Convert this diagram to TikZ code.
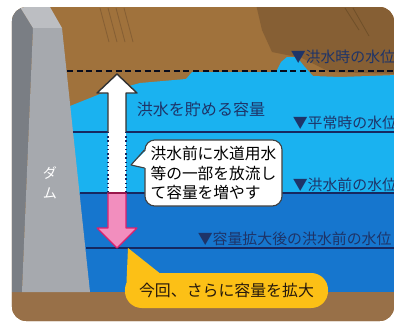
\documentclass[tikz,border=0pt]{standalone}
\usepackage{fontspec}
\newfontfamily\jpfont{Noto Sans CJK JP}
\usetikzlibrary{calc}
\usetikzlibrary{positioning}

\definecolor{earth}{RGB}{160,114,60}
\definecolor{earthdark}{RGB}{134,95,52}
\definecolor{ground}{RGB}{152,112,72}
\definecolor{damside}{RGB}{122,126,132}
\definecolor{damface}{RGB}{166,169,174}
\definecolor{damtop}{RGB}{188,190,194}
\definecolor{waterlight}{RGB}{26,178,240}
\definecolor{waterdeep}{RGB}{22,118,206}
\definecolor{navy}{RGB}{22,40,96}
\definecolor{labelnavy}{RGB}{30,52,104}
\definecolor{pinkfill}{RGB}{242,142,190}
\definecolor{pinkedge}{RGB}{222,32,108}
\definecolor{notefill}{RGB}{252,192,22}

\tikzset{
  levelline/.style={draw=navy, line width=1pt},
  levellabel/.style={anchor=west, inner sep=0pt, text=labelnavy,
    font=\jpfont\fontsize{10.6}{12}\selectfont},
  callbox/.style={draw=black!75, fill=white, line width=0.8pt, rounded corners=7pt,
    align=left, inner sep=0pt, minimum width=3.425cm, minimum height=1.65cm,
    font=\jpfont\fontsize{11.2}{13.6}\selectfont},
  notebox/.style={fill=notefill, rounded corners=12pt, inner sep=0pt,
    minimum width=5.075cm, minimum height=0.875cm, text=black!80!brown,
    font=\jpfont\fontsize{11.3}{13}\selectfont},
}

\begin{document}
\begin{tikzpicture}[x=0.025cm,y=-0.025cm]
    \useasboundingbox (0,0) rectangle (397,325);

    \coordinate (floodlvl) at (67,71);
    \coordinate (normallvl) at (73,132);
    \coordinate (beforelvl) at (80,193);
    \coordinate (afterlvl) at (86,248);

    \begin{scope}
    \clip[rounded corners=10pt] (12,7) rectangle (394,321);

    % earth, water, ground
    \fill[earth] (0,0) rectangle (397,325);
    \fill[earthdark] (255,0) -- (397,0) -- (397,74) -- (330,72) -- (302,58) -- (272,52) -- (262,30) -- cycle;
    \foreach \x in {100,108,116,124} {
        \draw[earthdark, line width=0.6pt] (\x,8) -- ++(9,34);
    }
    \draw[earth!70!black, line width=0.6pt] (345,8) -- ++(14,22) (353,8) -- ++(16,28);
    \fill[waterlight] (60,110) -- (75,104) -- (100,94) -- (140,83) -- (186,79) -- (192,72)
        -- (276,72) -- (281,62) -- (287,57) -- (297,57) -- (304,66) -- (313,76)
        -- (340,77) -- (397,75) -- (397,193) -- (60,193) -- cycle;
    \fill[waterdeep] (60,193) rectangle (397,292);
    \fill[ground] (0,292) rectangle (397,325);

    % dam
    \fill[damside] (0,0) -- (20,0) -- (20,7) -- (33,28) -- (22,292) -- (0,292) -- cycle;
    \fill[damtop] (20,7) -- (50,7) -- (62,28) -- (33,28) -- cycle;
    \fill[damface] (33,28) -- (62,28) -- (90,292) -- (22,292) -- cycle;

    % water levels
    \draw[line width=1.4pt, dash pattern=on 4.3pt off 2.6pt, black!70!navy] (floodlvl) -- ++(330,0);
    \draw[levelline] (normallvl) -- ++(330,0);
    \draw[levelline] (beforelvl) -- ++(330,0);
    \draw[levelline] (afterlvl) -- ++(330,0);

    \node[levellabel] (floodtxt) at (290.5,57) {▼洪水時の水位};
    \node[levellabel] (normaltxt) at (292.5,123) {▼平常時の水位};
    \node[levellabel] (beforetxt) at (292.5,185) {▼洪水前の水位};
    \node[levellabel] (aftertxt) at (197.5,239) {▼容量拡大後の洪水前の水位};
    \end{scope}

    \node[text=white, align=center, inner sep=0pt, font=\jpfont\fontsize{10}{14}\selectfont]
        (dam) at (50,183) {ダ\\ム};

    % storage arrow
    \fill[white] (108,193) -- (108,93) -- (97,93) -- (117,74) -- (137,93) -- (126,93) -- (126,193) -- cycle;
    \draw[black!80, line width=1pt, line join=round] (108,132) -- (108,93) -- (97,93) -- (117,74)
        -- (137,93) -- (126,93) -- (126,132);
    \draw[navy, line width=1pt, dotted] (108,132) -- (108,193) (126,132) -- (126,193);
    \node[text=labelnavy, font=\jpfont\fontsize{11.4}{13}\selectfont] (store) at (201,109) {洪水を貯める容量};

    % added capacity
    \draw[pinkedge, fill=pinkfill, line width=0.8pt, line join=round] (108,193) -- (108,228) -- (97,228)
        -- (117,248) -- (137,228) -- (126,228) -- (126,193);
    \draw[pinkedge!70!black, line width=1pt] (108,193) -- (126,193);

    % callouts
    \node[callbox] (release) at (213.5,173) {洪水前に水道用水\\等の一部を放流し\\て容量を増やす};
    \coordinate (tip1) at (131,165);
    \fill[white] (146.5,150) -- (tip1) -- (146.5,168) -- cycle;
    \draw[black!75, line width=0.8pt, line join=round] (release.west |- 0,150) -- (tip1) -- (release.west |- 0,168);

    \node[notebox] (expand) at (226.5,290.5) {今回、さらに容量を拡大};
    \coordinate (tip2) at (128,248);
    \fill[notefill] (126.5,282) -- (tip2) -- (162,275) -- cycle;
\end{tikzpicture}
\end{document}
